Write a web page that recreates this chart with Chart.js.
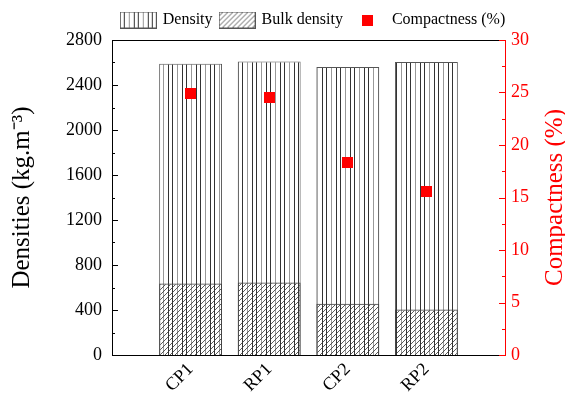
<!DOCTYPE html>
<html>
<head>
<meta charset="utf-8">
<script src="https://cdn.jsdelivr.net/npm/chart.js@4.4.0/dist/chart.umd.min.js"></script>
<style>
    html, body {margin: 0; padding: 0; background: #fff;}
    #wrap {width: 565px; height: 395px;}
</style>
</head>
<body>
<div id="wrap"><canvas id="densChart"></canvas></div>
<script>
const samples = ['CP1', 'RP1', 'CP2', 'RP2'];
const density = [2590, 2610, 2560, 2605];
const bulkDensity = [635, 645, 455, 405];
const compactness = [24.9, 24.5, 18.3, 15.6];
const densityTicks = [0, 400, 800, 1200, 1600, 2000, 2400, 2800];
const compactTicks = [0, 5, 10, 15, 20, 25, 30];

const serif = 'Liberation Serif';

// empty slot on each side so the bars sit like in the original plot
const pad = arr => [null, ...arr, null];

function makeTile(w, h, draw) {
    const c = document.createElement('canvas');
    c.width = w;
    c.height = h;
    draw(c.getContext('2d'), w, h);
    return c;
}

function vStripes(g, w, h) {
    g.fillStyle = '#fff';
    g.fillRect(0, 0, w, h);
    g.fillStyle = '#333';
    g.fillRect(0, 0, 1, h);
    g.fillRect(4, 0, 1, h);
    g.fillStyle = '#999';
    g.fillRect(9, 0, 1, h);
}

function diagonals(g, w, h) {
    g.strokeStyle = '#333';
    g.lineWidth = 0.8;
    g.beginPath();
    g.moveTo(0, h); g.lineTo(w, 0);
    g.moveTo(-1, 1); g.lineTo(1, -1);
    g.moveTo(w - 1, h + 1); g.lineTo(w + 1, h - 1);
    g.stroke();
}

const ctx = document.getElementById('densChart').getContext('2d');
const stripeTile = () => makeTile(14, 4, vStripes);
const hatchTile = () => makeTile(5, 5, diagonals);
const stripeFill = ctx.createPattern(stripeTile(), 'repeat');
const hatchFill = ctx.createPattern(hatchTile(), 'repeat');

function legendBox(tile) {
    return makeTile(37, 17, (g, w, h) => {
        g.fillStyle = '#fff';
        g.fillRect(0, 0, w, h);
        g.fillStyle = g.createPattern(tile, 'repeat');
        g.fillRect(0, 0, w, h);
        g.strokeStyle = '#555';
        g.strokeRect(0.5, 0.5, w - 1, h - 1);
    });
}
const redSquare = makeTile(11, 11, (g, w, h) => {
    g.fillStyle = '#ff0000';
    g.fillRect(0, 0, w, h);
});

// keep the legend on one row and give it a fixed band height
const legendBand = {
    id: 'legendBand',
    beforeLayout(chart) {
        const lg = chart.legend;
        if (lg && !lg._fixedFit) {
            const fit = lg.fit.bind(lg);
            lg.fit = function () {
                this.maxWidth += 60;
                fit();
                this.height = 36;
            };
            lg._fixedFit = true;
        }
    },
    afterLayout(chart) {
        const lg = chart.legend;
        lg.left -= 25;
        lg.right += 35;
        lg.width = lg.right - lg.left;
    }
};

const innerTicks = {
    id: 'innerTicks',
    afterDraw(chart) {
        const {ctx: c, chartArea: a, scales} = chart;
        c.save();
        c.lineWidth = 1;
        c.strokeStyle = '#000';
        c.beginPath();
        c.moveTo(a.left, a.top + 0.5);
        c.lineTo(a.right, a.top + 0.5);
        densityTicks.forEach((v, i) => {
            const y = Math.round(scales.y.getPixelForValue(v)) + 0.5;
            c.moveTo(a.left, y);
            c.lineTo(a.left + 6, y);
            if (i < densityTicks.length - 1) {
                const ym = Math.round(scales.y.getPixelForValue((v + densityTicks[i + 1]) / 2)) + 0.5;
                c.moveTo(a.left, ym);
                c.lineTo(a.left + 3, ym);
            }
        });
        c.stroke();

        c.strokeStyle = '#ff0000';
        c.beginPath();
        compactTicks.forEach((v, i) => {
            const y = Math.round(scales.y1.getPixelForValue(v)) + 0.5;
            c.moveTo(a.right, y);
            c.lineTo(a.right - 6, y);
            if (i < compactTicks.length - 1) {
                const ym = Math.round(scales.y1.getPixelForValue((v + compactTicks[i + 1]) / 2)) + 0.5;
                c.moveTo(a.right, ym);
                c.lineTo(a.right - 3, ym);
            }
        });
        c.stroke();

        // right axis title reads bottom-up in the original
        c.fillStyle = '#ff0000';
        c.font = '25px "' + serif + '"';
        c.textAlign = 'center';
        c.textBaseline = 'middle';
        c.translate(555, (a.top + a.bottom) / 2);
        c.rotate(-Math.PI / 2);
        c.fillText('Compactness (%)', 0, 0);
        c.restore();
    }
};

new Chart(ctx, {
    type: 'bar',
    data: {
        labels: pad(samples).map(s => s || ''),
        datasets: [
            {
                label: 'Density',
                data: pad(density),
                backgroundColor: stripeFill,
                borderColor: '#555',
                borderWidth: 1,
                grouped: false,
                pointStyle: legendBox(stripeTile()),
                order: 3,
                yAxisID: 'y'
            },
            {
                label: 'Bulk density',
                data: pad(bulkDensity),
                backgroundColor: hatchFill,
                borderColor: '#444',
                borderWidth: 1,
                grouped: false,
                pointStyle: legendBox(hatchTile()),
                order: 2,
                yAxisID: 'y'
            },
            {
                type: 'line',
                label: 'Compactness (%)',
                data: pad(compactness),
                showLine: false,
                pointStyle: redSquare,
                pointRadius: 6,
                order: 1,
                yAxisID: 'y1'
            }
        ]
    },
    options: {
        responsive: true,
        maintainAspectRatio: false,
        animation: false,
        layout: {padding: {top: 4, left: 0, right: 0, bottom: 0}},
        datasets: {bar: {categoryPercentage: 0.8, barPercentage: 1}},
        plugins: {
            tooltip: {enabled: false},
            legend: {
                position: 'top',
                fullSize: false,
                labels: {
                    usePointStyle: true,
                    pointStyleWidth: 33,
                    padding: 8,
                    color: '#000',
                    font: {family: serif, size: 16},
                    sort: (a, b) => a.datasetIndex - b.datasetIndex
                }
            }
        },
        scales: {
            x: {
                offset: false,
                grid: {display: false, drawTicks: false},
                border: {display: true, color: '#000', width: 1},
                ticks: {
                    color: '#000',
                    font: {family: serif, size: 18},
                    minRotation: 45,
                    maxRotation: 45,
                    padding: 4,
                    autoSkip: false
                },
                afterFit: s => { s.height = 40; }
            },
            y: {
                position: 'left',
                min: 0,
                max: 2800,
                grid: {display: false, drawTicks: false},
                border: {display: true, color: '#000', width: 1},
                afterBuildTicks: s => { s.ticks = densityTicks.map(v => ({value: v})); },
                ticks: {color: '#000', font: {family: serif, size: 18}, padding: 10, callback: v => String(v)},
                title: {
                    display: true,
                    text: 'Densities (kg.m\u207B\u00B3)',
                    color: '#000',
                    font: {family: serif, size: 25},
                    padding: {top: 7, bottom: 0}
                },
                afterFit: s => { s.width = 112; }
            },
            y1: {
                position: 'right',
                min: 0,
                max: 30,
                grid: {display: false, drawTicks: false},
                border: {display: true, color: '#ff0000', width: 1},
                afterBuildTicks: s => { s.ticks = compactTicks.map(v => ({value: v})); },
                ticks: {color: '#ff0000', font: {family: serif, size: 18}, padding: 6, callback: v => String(v)},
                afterFit: s => { s.width = 60; }
            }
        }
    },
    plugins: [legendBand, innerTicks]
});
</script>
</body>
</html>
